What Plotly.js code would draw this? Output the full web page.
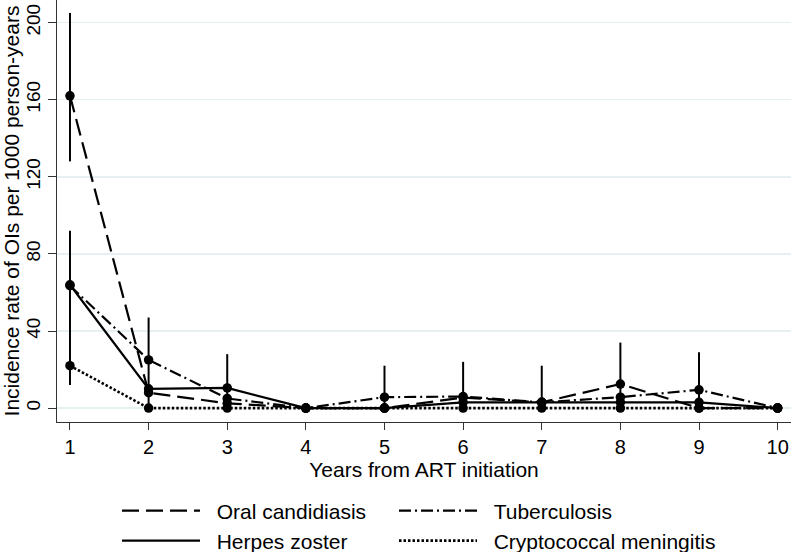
<!DOCTYPE html>
<html>
<head>
<meta charset="utf-8">
<script src="https://cdn.plot.ly/plotly-3.0.1.min.js"></script>
<style>
  body { margin: 0; background: #fff; }
  #plot1 { width: 793px; height: 552px; }
</style>
</head>
<body>
<div id="plot1"></div>
<script>
// years since ART start
var years = [1, 2, 3, 4, 5, 6, 7, 8, 9, 10];

// incidence per 1000 person-years
var oral     = [162, 8, 2.5, 0, 0, 5.5, 3, 12.5, 0, 0];
var tb       = [63.5, 25, 5, 0, 5.7, 6, 3, 5.7, 9.5, 0];
var herpes   = [64, 10, 10.5, 0, 0, 3, 3, 3, 3, 0];
var cryptoMn = [22, 0, 0, 0, 0, 0, 0, 0, 0, 0];   // (not "crypto", that name is taken by window)

// confidence interval bars (lower / upper ends)
var ciYear = [1, 1, 2, 3, 5, 6, 7, 8, 9];
var ciLow  = [128, 12, 0, 0, 0, 0, 0, 0, 0];
var ciHigh = [205, 92, 47, 28, 22, 24, 22, 34, 29];

var yTicks = [0, 40, 80, 120, 160, 200];

var font = "Liberation Sans, Arial, sans-serif";
var pad = '\u00a0\u00a0';  // a bit more room between legend line and text

function lineTrace(name, vals, dash, leg, w) {
  return {
    x: years, y: vals, name: pad + name,
    type: 'scatter', mode: 'lines',
    line: {color: 'black', width: w || 2.2, dash: dash},
    legend: leg,
  };
}
function dotTrace(vals) {
  return {
    x: years, y: vals, type: 'scatter', mode: 'markers',
    marker: {color: 'black', size: 9.5},
    showlegend: false, hoverinfo: 'skip',
  };
}

var ciTrace = {
  x: ciYear, y: ciLow,
  type: 'scatter', mode: 'markers',
  marker: {color: 'rgba(0,0,0,0)', size: 1},
  error_y: {
    type: 'data', symmetric: false,
    array: ciHigh.map(function(h, i){ return h - ciLow[i]; }),
    arrayminus: ciLow.map(function(){ return 0; }),
    color: 'black', thickness: 2, width: 0,
  },
  showlegend: false, hoverinfo: 'skip',
};

var data = [
  ciTrace,
  lineTrace('Oral candidiasis', oral, '17px,7px', 'legend'),
  lineTrace('Tuberculosis', tb, '12px,4px,2px,4px', 'legend2'),
  lineTrace('Herpes zoster', herpes, 'solid', 'legend3'),
  lineTrace('Cryptococcal meningitis', cryptoMn, '2.5px,2px', 'legend4', 2.6),
  dotTrace(oral), dotTrace(tb), dotTrace(herpes), dotTrace(cryptoMn),
];

// one small legend per entry so the 2x2 grid sits where the original has it
function leg(xPx, yPx) {
  return {
    orientation: 'h',
    xref: 'container', x: xPx / 793, xanchor: 'left',
    yref: 'container', y: 1 - yPx / 552, yanchor: 'middle',
    itemwidth: 78,
    font: {size: 21},
    bgcolor: 'rgba(0,0,0,0)',
  };
}

var layout = {
  width: 793, height: 552,
  margin: {l: 57, r: 2, t: 0, b: 130},
  paper_bgcolor: 'white', plot_bgcolor: 'white',
  font: {family: font, size: 20, color: 'black'},
  xaxis: {
    range: [0.835, 10.17],
    tickvals: years,
    ticks: 'outside', ticklen: 7, tickwidth: 1, tickcolor: '#333',
    showline: true, linecolor: '#333', linewidth: 1,
    showgrid: false, zeroline: false,
    tickfont: {size: 20},
    title: {text: 'Years from ART initiation', font: {size: 21}, standoff: 2},
    fixedrange: true,
  },
  yaxis: {
    range: [-7.2, 211.7],
    tickvals: yTicks,
    tickangle: -90,
    ticks: 'outside', ticklen: 8, tickwidth: 1, tickcolor: '#333',
    showline: true, linecolor: '#333', linewidth: 1,
    showgrid: true, gridcolor: '#e6eff1', gridwidth: 1.5,
    zeroline: false,
    tickfont: {size: 19},
    title: {text: 'Incidence rate of OIs per 1000 person-years', font: {size: 21}, standoff: 2},
    fixedrange: true,
  },
  legend:  leg(117, 511),
  legend2: leg(394, 511),
  legend3: leg(117, 541),
  legend4: leg(394, 541),
  showlegend: true,
};

Plotly.newPlot('plot1', data, layout, {displayModeBar: false, staticPlot: true});
</script>
</body>
</html>
